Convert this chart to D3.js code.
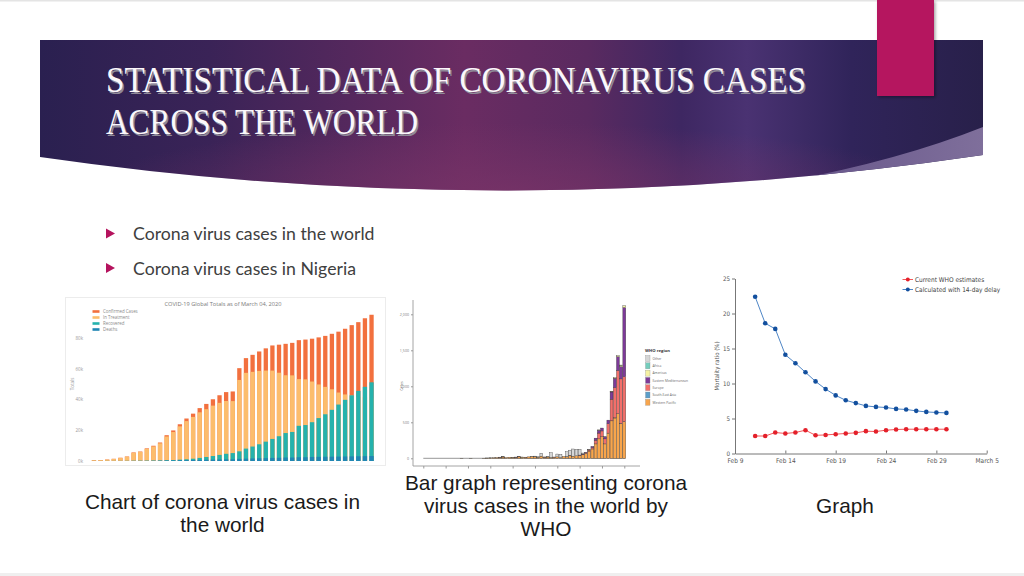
<!DOCTYPE html>
<html><head><meta charset="utf-8">
<script src="https://cdn.jsdelivr.net/npm/d3@7"></script>
<style>html,body{margin:0;padding:0;background:#fff;}svg{display:block}</style>
</head><body><svg id="s" width="1024" height="576"></svg>
<script>
// ---------- slide text ----------
const titleLines = ["STATISTICAL DATA OF CORONAVIRUS CASES", "ACROSS THE WORLD"];
const bulletItems = ["Corona virus cases in the world", "Corona virus cases in Nigeria"];
const captionLeft = ["Chart of corona virus cases in", "the world"];
const captionMid = ["Bar graph representing corona", "virus cases in the world by", "WHO"];
const captionRight = ["Graph"];

// ---------- chart 1: COVID-19 global totals (thousands) ----------
const worldTitle = "COVID-19 Global Totals as of March 04, 2020";
const worldDates = ["1/22","1/23","1/24","1/25","1/26","1/27","1/28","1/29","1/30","1/31",
 "2/1","2/2","2/3","2/4","2/5","2/6","2/7","2/8","2/9","2/10","2/11","2/12","2/13","2/14","2/15",
 "2/16","2/17","2/18","2/19","2/20","2/21","2/22","2/23","2/24","2/25","2/26","2/27","2/28","2/29",
 "3/1","3/2","3/3","3/4"];
const worldConfirmed = [0.56,0.65,0.94,1.43,2.12,2.93,5.58,6.17,8.23,9.93,
 12.04,16.79,19.89,23.90,27.64,30.80,34.40,37.13,40.16,42.77,
 44.81,45.23,60.38,66.91,69.05,71.24,73.27,75.15,75.65,76.21,
 76.84,78.60,78.98,79.55,80.40,81.38,82.74,84.12,86.01,
 88.37,90.31,92.84,95.12];
const worldInTreatment = [0.51,0.61,0.88,1.35,2.01,2.78,5.34,5.91,7.92,9.49,
 11.50,15.95,18.84,22.55,25.96,28.68,31.67,33.71,36.01,37.81,
 39.02,38.96,52.72,57.33,57.99,58.60,58.82,58.79,57.41,55.79,
 55.70,53.26,53.12,51.69,49.79,48.22,46.65,44.54,43.29,
 42.66,41.62,41.46,40.70];
const worldRecovered = [0.03,0.03,0.04,0.04,0.05,0.06,0.11,0.13,0.14,0.22,
 0.28,0.47,0.62,0.85,1.12,1.49,2.01,2.62,3.24,3.95,
 4.68,5.15,6.30,8.06,9.40,10.87,12.58,14.35,16.12,18.18,
 18.89,22.89,23.39,25.23,27.91,30.38,33.28,36.71,39.78,
 42.72,45.60,48.23,51.17];
const worldDeaths = [0.02,0.02,0.03,0.04,0.06,0.08,0.13,0.13,0.17,0.21,
 0.26,0.36,0.43,0.49,0.56,0.63,0.72,0.81,0.91,1.01,
 1.11,1.12,1.37,1.52,1.67,1.77,1.87,2.01,2.12,2.25,
 2.25,2.46,2.47,2.63,2.71,2.77,2.81,2.87,2.94,
 3.00,3.09,3.16,3.25];
const worldSeriesNames = ["Confirmed Cases","In Treatment","Recovered","Deaths"];
const worldColors = ["#f2703e","#fcbd6c","#25b2ad","#2086b4"];
const worldYTicks = [0,20,40,60,80];

// ---------- chart 2: WHO epidemic curve by region ----------
const whoDates = ["Jan 11","Jan 12","Jan 13","Jan 14","Jan 15","Jan 16","Jan 17","Jan 18","Jan 19","Jan 20",
 "Jan 21","Jan 22","Jan 23","Jan 24","Jan 25","Jan 26","Jan 27","Jan 28","Jan 29","Jan 30",
 "Jan 31","Feb 1","Feb 2","Feb 3","Feb 4","Feb 5","Feb 6","Feb 7","Feb 8","Feb 9",
 "Feb 10","Feb 11","Feb 12","Feb 13","Feb 14","Feb 15","Feb 16","Feb 17","Feb 18","Feb 19",
 "Feb 20","Feb 21","Feb 22","Feb 23","Feb 24","Feb 25","Feb 26","Feb 27","Feb 28","Feb 29",
 "Mar 1","Mar 2","Mar 3","Mar 4"];
const whoWesternPacific = [0,0,1,0,0,1,0,0,0,2, 3,5,7,10,12,18,10,15,14,12, 20,15,14,20,25,20,15,30,12,18,
 12,15,20,10,25,20,40,30,35,40, 50,70,100,130,200,270,300,200,350,520, 560,620,480,508];
const whoSouthEastAsia = [0,0,0,0,0,0,0,0,0,0, 0,1,0,0,2,0,0,0,1,0, 0,0,0,0,1,0,0,0,0,0,
 0,0,0,0,0,0,0,0,0,0, 0,0,0,0,0,0,0,0,0,1, 2,0,3,2];
const whoEurope = [0,0,0,0,0,0,0,0,0,0, 0,0,0,0,2,1,0,0,0,0, 3,0,2,0,0,0,0,0,4,0,
 0,3,0,0,0,0,3,0,0,0, 5,10,15,20,50,80,80,70,130,300, 420,600,620,625];
const whoEasternMed = [0,0,0,0,0,0,0,0,0,0, 0,0,0,0,0,0,0,0,0,4, 0,0,0,0,0,0,0,0,0,0,
 0,0,0,0,0,0,0,0,0,5, 5,5,5,15,30,40,40,30,50,100, 130,190,170,959];
const whoAmericas = [0,0,0,0,0,0,0,0,0,0, 1,0,0,0,0,2,0,0,0,1, 0,3,0,0,0,0,0,0,0,0,
 0,0,0,0,0,2,0,0,0,0, 0,0,3,0,0,5,0,5,0,8, 10,15,20,25];
const whoAfrica = [0,0,0,0,0,0,0,0,0,0, 0,0,0,0,0,0,0,0,0,0, 0,0,0,0,0,0,0,0,0,0,
 0,0,0,0,0,1,0,0,0,0, 0,0,0,0,0,0,0,0,0,1, 0,0,2,0];
const whoOther = [0,0,0,0,0,0,0,0,0,0, 0,0,0,0,0,0,0,0,0,0, 0,0,0,0,0,10,10,41,3,6,
 65,0,39,44,0,67,70,99,88,79, 13,0,0,0,0,0,0,0,0,0, 0,0,0,0];
const whoRegions = ["Western Pacific","South-East Asia","Europe","Eastern Mediterranean","Americas","Africa","Other"];
const whoColors = ["#f8a54c","#5b9ec9","#f26f6a","#7d3a98","#f6f2a4","#74cdbc","#d6d6d6"];
const whoLegendOrder = ["Other","Africa","Americas","Eastern Mediterranean","Europe","South-East Asia","Western Pacific"];
const whoYTicks = [0,500,1000,1500,2000];
const whoXTicks = ["Jan 1","Jan 8","Jan 15","Jan 22","Jan 29","Feb 5","Feb 12","Feb 19","Feb 26","Mar 4"];

// ---------- chart 3: mortality ratio ----------
const mortDates = ["Feb 11","Feb 12","Feb 13","Feb 14","Feb 15","Feb 16","Feb 17","Feb 18","Feb 19","Feb 20",
 "Feb 21","Feb 22","Feb 23","Feb 24","Feb 25","Feb 26","Feb 27","Feb 28","Feb 29","Mar 1"];
const mortWHO = [2.5,2.5,3.0,2.86,3.0,3.33,2.6,2.65,2.76,2.86,2.95,3.19,3.14,3.33,3.43,3.47,3.47,3.47,3.47,3.47];
const mortDelay = [22.4,18.6,17.8,14.1,12.9,11.6,10.3,9.2,8.3,7.6,7.2,6.8,6.66,6.57,6.37,6.29,6.09,5.94,5.86,5.8];
const mortSeriesNames = ["Current WHO estimates","Calculated with 14-day delay"];
const mortYTicks = [0,5,10,15,20,25];
const mortXTicks = ["Feb 9","Feb 14","Feb 19","Feb 24","Feb 29","Mar 5"];
const mortXTickLabels = ["Feb 9","Feb 14","Feb 19","Feb 24","Feb 29","March 5"];

// =====================================================
const svg = d3.select("#s");
const defs = svg.append("defs");

// slide frame lines
svg.append("rect").attr("x",0).attr("y",0).attr("width",1024).attr("height",1.5).attr("fill","#e4e4e4");
svg.append("rect").attr("x",0).attr("y",573).attr("width",1024).attr("height",3).attr("fill","#efefef");

// banner
const bg = defs.append("linearGradient").attr("id","bannerGrad").attr("x1",0).attr("x2",1).attr("y1",0).attr("y2",0);
[[0,"#2a2050"],[0.18,"#3a2357"],[0.45,"#6a2c62"],[0.58,"#5a2a60"],[0.68,"#3e2762"],[0.75,"#4a3272"],[0.86,"#30245a"],[1,"#28204a"]]
 .forEach(s=>bg.append("stop").attr("offset",s[0]).attr("stop-color",s[1]));
const rg = defs.append("radialGradient").attr("id","bannerGlow").attr("cx",0.5).attr("cy",1).attr("r",0.45);
rg.append("stop").attr("offset",0).attr("stop-color","#7a3468").attr("stop-opacity",0.7);
rg.append("stop").attr("offset",1).attr("stop-color","#7a3468").attr("stop-opacity",0);
const bannerPath = "M40,40 H983 V155 Q510,225 40,157 Z";
defs.append("clipPath").attr("id","bannerClip").append("path").attr("d",bannerPath);
svg.append("path").attr("d",bannerPath).attr("fill","url(#bannerGrad)");
svg.append("path").attr("d",bannerPath).attr("fill","url(#bannerGlow)");
const wg = defs.append("linearGradient").attr("id","wedgeGrad").attr("x1",0).attr("x2",1).attr("y1",0).attr("y2",0);
wg.append("stop").attr("offset",0).attr("stop-color","#5f4e85");
wg.append("stop").attr("offset",1).attr("stop-color","#7f6f9b");
svg.append("path").attr("clip-path","url(#bannerClip)")
  .attr("d","M735,190 Q880,168 983,127 L983,240 L735,240 Z").attr("fill","url(#wedgeGrad)");

// magenta block
const sh = defs.append("filter").attr("id","shadow").attr("x","-20%").attr("y","-20%").attr("width","150%").attr("height","150%");
sh.append("feDropShadow").attr("dx",1.5).attr("dy",1.5).attr("stdDeviation",1.5).attr("flood-color","#000").attr("flood-opacity",0.35);
svg.append("rect").attr("x",877).attr("y",0).attr("width",57).attr("height",96).attr("fill","#b5125e").attr("filter","url(#shadow)");

// title
const titleY = [92, 134], titleLen = [700, 312];
titleLines.forEach((t,i)=>{
  svg.append("text").attr("x",107.5).attr("y",titleY[i]+1.5).text(t)
    .attr("font-family","'Liberation Serif','DejaVu Serif',serif").attr("font-size",35)
    .attr("textLength",titleLen[i]).attr("lengthAdjust","spacingAndGlyphs").attr("fill","#8f8a98");
  svg.append("text").attr("x",106).attr("y",titleY[i]).text(t)
    .attr("font-family","'Liberation Serif','DejaVu Serif',serif").attr("font-size",35)
    .attr("textLength",titleLen[i]).attr("lengthAdjust","spacingAndGlyphs").attr("fill","#fbf8fb");
});

// bullets
const bulletY = [233.5, 268];
bulletItems.forEach((t,i)=>{
  const y = bulletY[i];
  svg.append("path").attr("d",`M106,${y-5} L115,${y} L106,${y+5} Z`).attr("fill","#b5135e");
  svg.append("text").attr("x",133).attr("y",y+6.5).text(t)
    .attr("font-family","Lato,'Open Sans',sans-serif").attr("font-size",17.7).attr("fill","#404040");
});

// ================= chart 1 =================
const g1 = svg.append("g");
g1.append("rect").attr("x",65.5).attr("y",297.5).attr("width",320).attr("height",168).attr("fill","#fff").attr("stroke","#ececec");
const wx = d3.scaleBand().domain(worldDates).range([89.5,376]).padding(0.35);
const wy = d3.scaleLinear().domain([0,80]).range([461,338]);
const worldVals = [worldConfirmed, worldInTreatment, worldRecovered, worldDeaths];
worldVals.forEach((vals,si)=>{
  g1.append("g").selectAll("rect").data(worldDates).join("rect")
    .attr("x",d=>wx(d)).attr("width",wx.bandwidth())
    .attr("y",(d,i)=>wy(vals[i])).attr("height",(d,i)=>wy(0)-wy(vals[i]))
    .attr("fill",worldColors[si]);
});
const wAxis = g1.append("g").attr("transform","translate(86,0)")
  .call(d3.axisLeft(wy).tickValues(worldYTicks).tickFormat(d=>d+"k").tickSize(0));
wAxis.select(".domain").remove();
wAxis.selectAll("text").attr("font-size",4.5).attr("fill","#9a9a9a").attr("font-family","'Open Sans',sans-serif");
g1.append("text").attr("transform","translate(73.5,384) rotate(-90)").attr("text-anchor","middle")
  .attr("font-size",4.5).attr("fill","#9a9a9a").attr("font-family","'Open Sans',sans-serif").text("Totals");
g1.append("text").attr("x",164.5).attr("y",306).text(worldTitle).attr("font-size",5.5)
  .attr("textLength",117).attr("lengthAdjust","spacingAndGlyphs")
  .attr("fill","#7a7a7a").attr("font-family","'Open Sans',sans-serif");
worldSeriesNames.forEach((n,i)=>{
  const y = 311.5 + i*6;
  g1.append("rect").attr("x",92.5).attr("y",y-1.3).attr("width",7).attr("height",2.6).attr("fill",worldColors[i]);
  g1.append("text").attr("x",103).attr("y",y+1.6).text(n).attr("font-size",4.4).attr("fill","#8a8a8a")
    .attr("font-family","'Open Sans',sans-serif");
});

// ================= chart 2 =================
const g2 = svg.append("g");
const parse = d3.timeParse("%b %d %Y");
const pd = s => parse(s+" 2020");
const mx = d3.scaleTime().domain([pd("Jan 1"), pd("Mar 4")]).range([423.3,624.3]);
const my = d3.scaleLinear().domain([0,2000]).range([458.3,314.3]);
const whoVals = [whoWesternPacific, whoSouthEastAsia, whoEurope, whoEasternMed, whoAmericas, whoAfrica, whoOther];
const rows = whoDates.map((d,i)=>{ const r={date:pd(d)}; whoRegions.forEach((k,j)=>r[k]=whoVals[j][i]); return r; });
const stacked = d3.stack().keys(whoRegions)(rows);
const bw = 2.9;
g2.append("line").attr("x1",mx(pd("Jan 1"))).attr("x2",mx(pd("Mar 4"))+bw/2).attr("y1",my(0)).attr("y2",my(0))
  .attr("stroke","#8c8c8c").attr("stroke-width",0.9);
stacked.forEach((layer,j)=>{
  g2.append("g").selectAll("rect").data(layer.filter(s=>s[1]-s[0]>0)).join("rect")
    .attr("x",s=>mx(s.data.date)-bw/2).attr("width",bw)
    .attr("y",s=>my(s[1])).attr("height",s=>my(s[0])-my(s[1]))
    .attr("fill",whoColors[j]).attr("stroke","#333").attr("stroke-width",0.35);
});
g2.append("line").attr("x1",413).attr("x2",413).attr("y1",300).attr("y2",466).attr("stroke","#9a9a9a").attr("stroke-width",0.9);
g2.append("line").attr("x1",413).attr("x2",640).attr("y1",466).attr("y2",466).attr("stroke","#9a9a9a").attr("stroke-width",0.9);
const myAxis = g2.append("g").attr("transform","translate(413,0)")
  .call(d3.axisLeft(my).tickValues(whoYTicks).tickSize(2).tickPadding(2));
myAxis.select(".domain").remove();
myAxis.selectAll("line").attr("stroke","#999");
myAxis.selectAll("text").attr("font-size",3.6).attr("fill","#777").attr("font-family","'Open Sans',sans-serif");
const mxAxis = g2.append("g").attr("transform","translate(0,466)")
  .call(d3.axisBottom(mx).tickValues(whoXTicks.map(pd)).tickFormat("").tickSize(2.5).tickSizeOuter(0));
mxAxis.select(".domain").remove();
mxAxis.selectAll("line").attr("stroke","#999");
g2.append("text").attr("transform","translate(402.5,386) rotate(-90)").attr("text-anchor","middle")
  .attr("font-size",3.4).attr("fill","#555").attr("font-family","'Open Sans',sans-serif").text("Cases");
g2.append("text").attr("x",645).attr("y",352).text("WHO region").attr("font-size",4.2).attr("font-weight","bold")
  .attr("fill","#333").attr("font-family","'Open Sans',sans-serif");
whoLegendOrder.forEach((n,i)=>{
  const y = 358.5 + i*7.3;
  g2.append("rect").attr("x",645.5).attr("y",y-3).attr("width",4.5).attr("height",6)
    .attr("fill",whoColors[whoRegions.indexOf(n)]).attr("stroke","#888").attr("stroke-width",0.3);
  g2.append("text").attr("x",652.5).attr("y",y+1.2).text(n).attr("font-size",3.3).attr("fill","#666")
    .attr("font-family","'Open Sans',sans-serif");
});

// ================= chart 3 =================
const g3 = svg.append("g");
const rFont = "'Liberation Sans Narrow','DejaVu Sans Condensed',sans-serif";
const rx = d3.scaleTime().domain([pd("Feb 9"), pd("Mar 5")]).range([735,986.7]);
const ry = d3.scaleLinear().domain([0,25]).range([453.5,278.5]);
const ryAxis = g3.append("g").attr("transform","translate(735,0)")
  .call(d3.axisLeft(ry).tickValues(mortYTicks).tickSize(3).tickPadding(2).tickSizeOuter(0));
ryAxis.select(".domain").attr("stroke","#777");
ryAxis.selectAll("line").attr("stroke","#777");
ryAxis.selectAll("text").attr("font-size",6.2).attr("fill","#555").attr("font-family",rFont);
const rxAxis = g3.append("g").attr("transform","translate(0,453.5)")
  .call(d3.axisBottom(rx).tickValues(mortXTicks.map(pd)).tickFormat((d,i)=>mortXTickLabels[i]).tickSize(-3).tickPadding(5).tickSizeOuter(0));
rxAxis.select(".domain").attr("stroke","#777");
rxAxis.selectAll("line").attr("stroke","#777");
rxAxis.selectAll("text").attr("font-size",6.5).attr("fill","#555").attr("font-family",rFont);
g3.append("text").attr("transform","translate(719,366) rotate(-90)").attr("text-anchor","middle")
  .attr("font-size",6).attr("fill","#555").attr("font-family",rFont).text("Mortality ratio (%)");
const mortSeries = [
  {vals:mortWHO, line:"#f2585b", dot:"#e4202a"},
  {vals:mortDelay, line:"#4f86c6", dot:"#124f9e"}
];
const lineGen = d3.line().x(d=>rx(d.date)).y(d=>ry(d.v));
mortSeries.forEach(s=>{
  const pts = mortDates.map((d,i)=>({date:pd(d), v:s.vals[i]}));
  g3.append("path").datum(pts).attr("d",lineGen).attr("fill","none").attr("stroke",s.line).attr("stroke-width",1);
  g3.append("g").selectAll("circle").data(pts).join("circle")
    .attr("cx",d=>rx(d.date)).attr("cy",d=>ry(d.v)).attr("r",2.3).attr("fill",s.dot);
});
mortSeriesNames.forEach((n,i)=>{
  const y = 279.5 + i*10;
  g3.append("line").attr("x1",902.5).attr("x2",913).attr("y1",y).attr("y2",y).attr("stroke",mortSeries[i].line).attr("stroke-width",1);
  g3.append("circle").attr("cx",907.8).attr("cy",y).attr("r",2).attr("fill",mortSeries[i].dot);
  g3.append("text").attr("x",915).attr("y",y+2.2).text(n).attr("font-size",6.5).attr("fill","#444").attr("font-family",rFont);
});

// ================= captions =================
const capFont = "'Liberation Sans',Arial,sans-serif";
captionLeft.forEach((t,i)=>svg.append("text").attr("x",222.5).attr("y",509+i*23).attr("text-anchor","middle")
  .text(t).attr("font-size",20.8).attr("fill","#1a1a1a").attr("font-family",capFont));
captionMid.forEach((t,i)=>svg.append("text").attr("x",546).attr("y",490+i*23).attr("text-anchor","middle")
  .text(t).attr("font-size",20.8).attr("fill","#1a1a1a").attr("font-family",capFont));
captionRight.forEach((t,i)=>svg.append("text").attr("x",845).attr("y",513).attr("text-anchor","middle")
  .text(t).attr("font-size",20.8).attr("fill","#1a1a1a").attr("font-family",capFont));
</script></body></html>
